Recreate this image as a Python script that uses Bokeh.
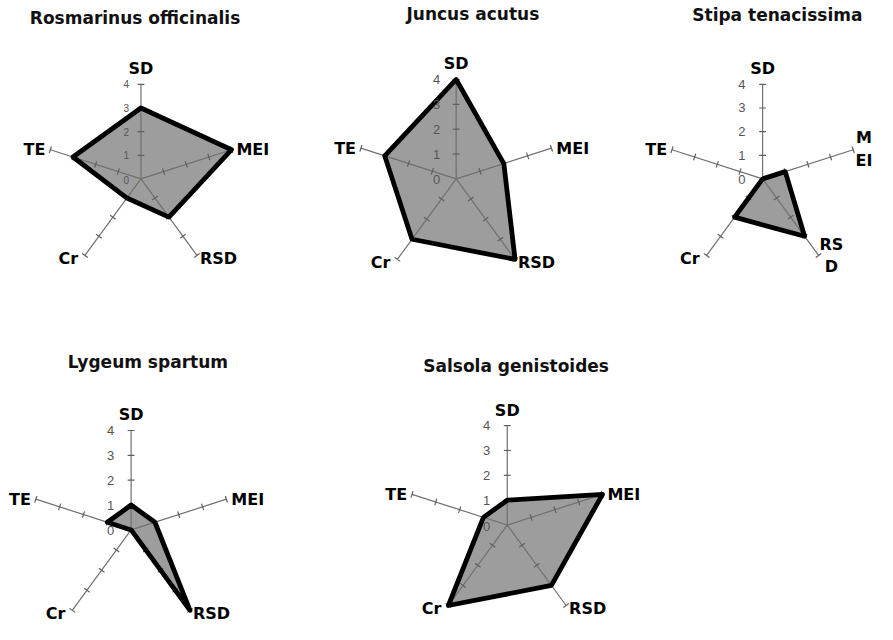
import math
from bokeh.plotting import figure
from bokeh.models import Range1d
from bokeh.embed import file_html
from bokeh.resources import INLINE
from bokeh.core.properties import value

# ---------------- data ----------------
axis_names = ["SD", "MEI", "RSD", "Cr", "TE"]
tick_values = [0, 1, 2, 3, 4]
species = ["Rosmarinus officinalis", "Juncus acutus", "Stipa tenacissima",
           "Lygeum spartum", "Salsola genistoides"]
rosmarinus = [3, 4, 2, 1, 3]
juncus = [4, 2, 4, 3, 3]
stipa = [0, 1, 3, 2, 0]
lygeum = [1, 1, 4, 0, 1]
salsola = [1, 4, 3, 4, 1]
series = [rosmarinus, juncus, stipa, lygeum, salsola]

# ---------------- layout / style ----------------
FONT = "DejaVu Sans"
TICK_FONT = "Liberation Sans"
angles_deg = [90, 18, -54, -126, 162]
centers = [(143, 183), (464, 183), (776, 183), (133, 543), (516, 538)]
radius4 = [97, 102, 97, 102, 102]           # pixel length of value 4
title_pos = [(137, 18), (481, 14), (791, 15), (150, 371), (525, 375)]
tick_font = ["10px", "13px", "13px", "13px", "13px"]
tick_dx = [15, 20, 21, 21, 21]
vmax = max(tick_values)

# label anchor offsets per axis: (dx, dy, align)
label_style = {
    "SD": (0, -16, "center"),
    "MEI": (5, 0, "left"),
    "RSD": (3, 3, "left"),
    "Cr": (-7, 3, "right"),
    "TE": (-5, 0, "right"),
}
# wrapped labels for the narrow third chart
wrapped = {2: {"MEI": ("M\nEI", (11, -1, "center")),
               "RSD": ("RS\nD", (13, 0, "center"))}}

p = figure(width=877, height=624, x_range=Range1d(0, 893), y_range=Range1d(640, 0),
           output_backend="svg", toolbar_location=None, min_border=0,
           x_axis_location=None, y_axis_location=None)
p.grid.visible = False
p.outline_line_color = None
p.background_fill_color = "white"


def pt(c, R, ang, v):
    a = math.radians(ang)
    r = R * v / vmax
    return c[0] + r * math.cos(a), c[1] - r * math.sin(a)


for i, vals in enumerate(series):
    c, R = centers[i], radius4[i]
    poly = [pt(c, R, angles_deg[k], vals[k]) for k in range(len(axis_names))]
    px = [q[0] for q in poly]
    py = [q[1] for q in poly]
    p.patch(px, py, fill_color="#9d9d9d", line_color=None)

    ax_x, ax_y = [], []
    tx0, ty0, tx1, ty1 = [], [], [], []
    for k, ang in enumerate(angles_deg):
        ex, ey = pt(c, R, ang, vmax)
        ax_x.append([c[0], ex])
        ax_y.append([c[1], ey])
        a = math.radians(ang)
        nx, ny = -math.sin(a), -math.cos(a)
        for t in tick_values[1:]:
            mx, my = pt(c, R, ang, t)
            tx0.append(mx - 3.5 * nx); ty0.append(my - 3.5 * ny)
            tx1.append(mx + 3.5 * nx); ty1.append(my + 3.5 * ny)
    p.multi_line(ax_x, ax_y, line_color="#707070", line_width=1.2)
    p.segment(tx0, ty0, tx1, ty1, line_color="#606060", line_width=1.2)

    p.patch(px, py, fill_color=None, line_color="black", line_width=4.8,
            line_join="round")

    lx, ly, lt = [], [], []
    for t in tick_values:
        mx, my = pt(c, R, 90, t)
        lx.append(mx - tick_dx[i]); ly.append(my + (1 if t == 0 else 0)); lt.append(str(t))
    p.text(lx, ly, text=lt, text_font=value(TICK_FONT), text_font_size=tick_font[i],
           text_color="#555555", text_align="center", text_baseline="middle")

    for k, name in enumerate(axis_names):
        txt, (dx, dy, al) = name, label_style[name]
        if i in wrapped and name in wrapped[i]:
            txt, (dx, dy, al) = wrapped[i][name]
        ex, ey = pt(c, R, angles_deg[k], vmax)
        p.text([ex + dx], [ey + dy], text=[txt], text_font=value(FONT),
               text_font_size="16px", text_font_style="bold", text_color="black",
               text_align=al, text_baseline="middle", text_line_height=1.2)

    p.text([title_pos[i][0]], [title_pos[i][1]], text=[species[i]], text_font=value(FONT),
           text_font_size="17px", text_font_style="bold", text_color="#111111",
           text_align="center", text_baseline="middle")

open("out.html", "w").write(file_html(p, INLINE))
